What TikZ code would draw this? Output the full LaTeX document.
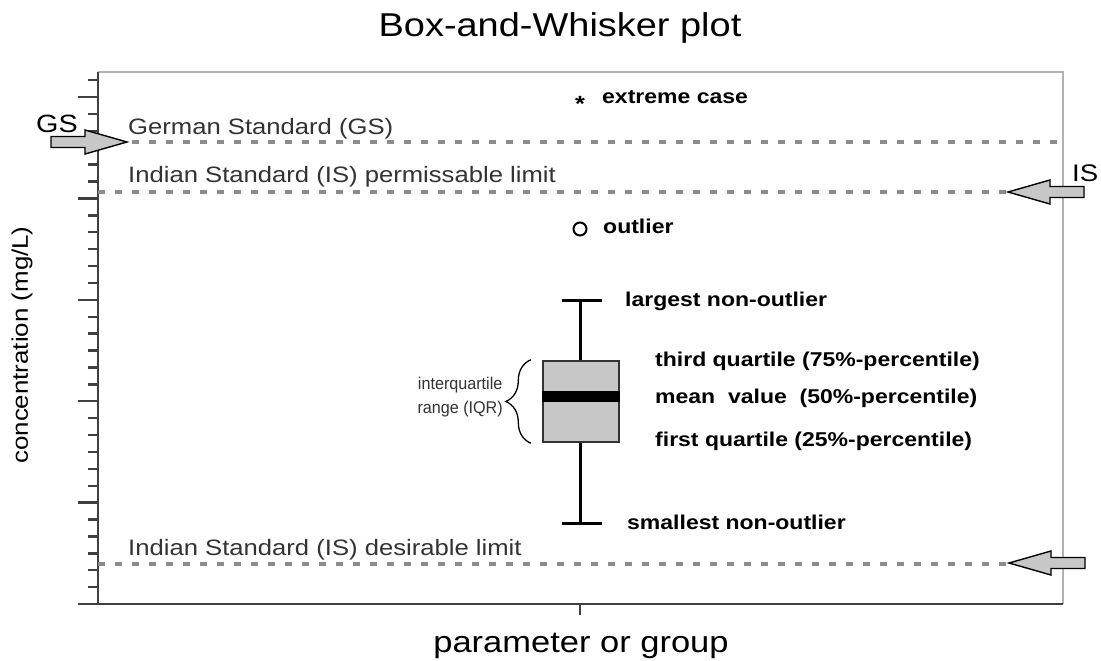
\documentclass[tikz,border=0pt]{standalone}
\usepackage{fontspec}
\setmainfont{Liberation Sans}[FakeStretch=1.15]
\newfontfamily\narrowfont{Liberation Sans}[FakeStretch=0.95]
\usetikzlibrary{positioning, decorations.pathreplacing}
\tikzset{
  plottitle/.style={font=\fontsize{33}{36}\selectfont, anchor=base, inner sep=0pt},
  axistitle/.style={font=\fontsize{30}{34}\selectfont, inner sep=0pt},
  stdtext/.style={font=\fontsize{22.3}{26}\selectfont, text=black!80, anchor=base west, inner sep=0pt},
  annot/.style={font=\bfseries\fontsize{20}{24}\selectfont, anchor=base west, inner sep=0pt},
  limitline/.style={black!45, line width=3.2pt, dash pattern=on 7pt off 10pt},
  whisker/.style={line width=3pt},
  arrowfill/.style={draw=black, fill=black!22, line width=1.4pt, line join=miter},
  limitarrow/.pic={\draw[arrowfill] (0,0) -- (42,-12) -- (42,-5.5) -- (76,-5.5)
    -- (76,5.5) -- (42,5.5) -- (42,12) -- cycle;}
}

\begin{document}
\begin{tikzpicture}[x=1pt, y=-1pt]
  \useasboundingbox[fill=white] (0,0) rectangle (1101,661);

  % frame and axis
  \draw[gray!60, line width=1.8pt] (98,72) -- (1063,72) -- (1063,604);
  \draw[black!75, line width=2.4pt] (98,72) -- (98,604) (78,604) -- (1063,604);
  \foreach \i in {0,...,31}{
    \pgfmathsetmacro\ty{604-16.9*\i}
    \pgfmathsetmacro\tl{mod(\i,6)==0 ? 20 : 10}
    \draw[black!75, line width=2.4pt] (98,\ty) -- ++(-\tl,0);
  }
  \draw[black!75, line width=2.4pt] (580,604) -- (580,615);

  % limits
  \coordinate (gsL) at (98,142);   \coordinate (gsR) at (1063,142);
  \coordinate (ispL) at (98,192);  \coordinate (ispR) at (1063,192);
  \coordinate (isdL) at (98,564);  \coordinate (isdR) at (1063,564);
  \draw[limitline] (gsL) -- (gsR);
  \draw[limitline] (ispL) -- (ispR);
  \draw[limitline] (isdL) -- (isdR);
  \node[stdtext] (gstext) at (128,135) {German Standard (GS)};
  \node[stdtext] (isptext) at (128,182) {Indian Standard (IS) permissable limit};
  \node[stdtext] (isdtext) at (128,555) {Indian Standard (IS) desirable limit};

  \pic[xscale=-1] at (127,142) {limitarrow};
  \pic at (1008,192) {limitarrow};
  \pic at (1009,563) {limitarrow};
  \node[font=\fontsize{25}{28}\selectfont, anchor=base west, inner sep=0pt] (gs) at (36,132) {GS};
  \node[font=\fontsize{24}{28}\selectfont, anchor=base west, inner sep=0pt] (is) at (1072,181) {IS};

  % box and whiskers
  \node[draw=black!80, line width=2.4pt, fill=black!22, minimum width=76pt, minimum height=81pt,
    inner sep=0pt] (iqr) at (581,401.5) {};
  \draw[line width=11pt, line cap=butt] ([yshift=5pt]iqr.west) -- ([yshift=5pt]iqr.east);
  \coordinate (maxw) at (580,300);
  \coordinate (minw) at (580,523);
  \draw[whisker] (iqr.north -| maxw) -- (maxw);
  \draw[whisker] (iqr.south -| minw) -- (minw);
  \draw[whisker] ([xshift=-18pt]maxw) -- ([xshift=22pt]maxw);
  \draw[whisker] ([xshift=-18pt]minw) -- ([xshift=22pt]minw);
  \draw[line width=1.3pt, decorate, decoration={brace, amplitude=25pt}]
    ([xshift=-11pt]iqr.south west) -- ([xshift=-11pt]iqr.north west);
  \node[font=\narrowfont\fontsize{17}{24}\selectfont, text=black!80, align=center, anchor=east,
    inner sep=0pt] (iqrtext) at (503,397) {interquartile\\range (IQR)};

  \node[circle, draw, line width=2pt, minimum size=13pt, inner sep=0pt] (outlier) at (580,229) {};
  \node[font=\bfseries\fontsize{22}{24}\selectfont, anchor=base, inner sep=0pt] (extreme) at (580,111) {*};

  % annotations
  \node[annot] (extext) at (602,103) {extreme case};
  \node[annot] (outtext) at (603,233) {outlier};
  \node[annot] (maxtext) at (625,306) {largest non-outlier};
  \node[annot] (q3text) at (655,366) {third quartile (75\%-percentile)};
  \node[annot] (medtext) at (655,403) {mean\ \ value\ \ (50\%-percentile)};
  \node[annot] (q1text) at (655,446) {first quartile (25\%-percentile)};
  \node[annot] (mintext) at (627,529) {smallest non-outlier};

  % titles
  \node[plottitle] (title) at (560,37) {Box-and-Whisker plot};
  \node[axistitle, rotate=90, font=\fontsize{22.5}{26}\selectfont] (ylab) at (22,345) {concentration (mg/L)};
  \node[axistitle, anchor=base] (xlab) at (581,652) {parameter or group};
\end{tikzpicture}
\end{document}
